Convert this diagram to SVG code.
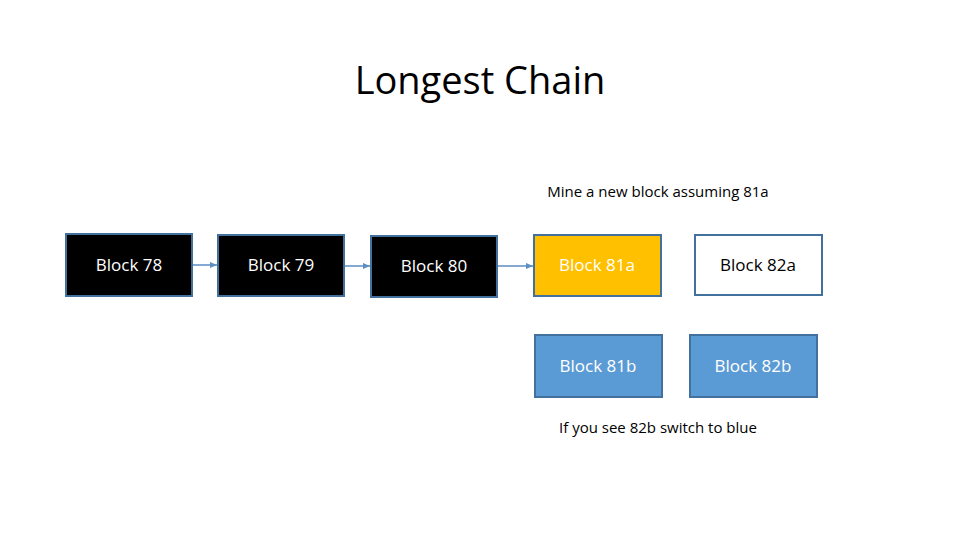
<svg xmlns="http://www.w3.org/2000/svg" width="960" height="540" viewBox="0 0 960 540">
<style>
text{font-family:"Segoe UI","Open Sans","Liberation Sans",sans-serif;text-anchor:middle}
.b{stroke:#41719c;stroke-width:2}
.lbl{font-size:17px}
.c{stroke:#5b8ec4;stroke-width:1.5;fill:none}
</style>
<defs><marker id="ar" markerWidth="8" markerHeight="8" refX="7" refY="4" orient="auto" markerUnits="userSpaceOnUse"><path d="M0,1L7,4L0,7z" fill="#5b8ec4"/></marker></defs>
<rect width="960" height="540" fill="#fff"/>
<text x="480" y="94" font-size="38" font-family="'Segoe UI','Open Sans',sans-serif">Longest Chain</text>
<text x="658" y="197" font-size="15">Mine a new block assuming 81a</text>
<text x="658" y="433" font-size="15">If you see 82b switch to blue</text>
<g id="connectors">
<line class="c" x1="193" y1="265" x2="217" y2="265" marker-end="url(#ar)"/>
<line class="c" x1="345" y1="266" x2="370" y2="266" marker-end="url(#ar)"/>
<line class="c" x1="498" y1="266" x2="533" y2="266" marker-end="url(#ar)"/>
</g>
<g id="b78"><rect class="b" x="66" y="234" width="126" height="62" fill="#000"/><text class="lbl" x="129" y="271" fill="#fff">Block 78</text></g>
<g id="b79"><rect class="b" x="218" y="235" width="126" height="61" fill="#000"/><text class="lbl" x="281" y="271" fill="#fff">Block 79</text></g>
<g id="b80"><rect class="b" x="371" y="236" width="126" height="61" fill="#000"/><text class="lbl" x="434" y="272" fill="#fff">Block 80</text></g>
<g id="b81a"><rect class="b" x="534" y="235" width="127" height="61" fill="#ffc000"/><text class="lbl" x="597" y="271" fill="#fff">Block 81a</text></g>
<g id="b82a"><rect class="b" x="695" y="235" width="127" height="60" fill="#fff"/><text class="lbl" x="758" y="271" fill="#000">Block 82a</text></g>
<g id="b81b"><rect class="b" x="535" y="335" width="127" height="62" fill="#5b9bd5"/><text class="lbl" x="598" y="372" fill="#fff">Block 81b</text></g>
<g id="b82b"><rect class="b" x="690" y="335" width="127" height="62" fill="#5b9bd5"/><text class="lbl" x="753" y="372" fill="#fff">Block 82b</text></g>
</svg>
